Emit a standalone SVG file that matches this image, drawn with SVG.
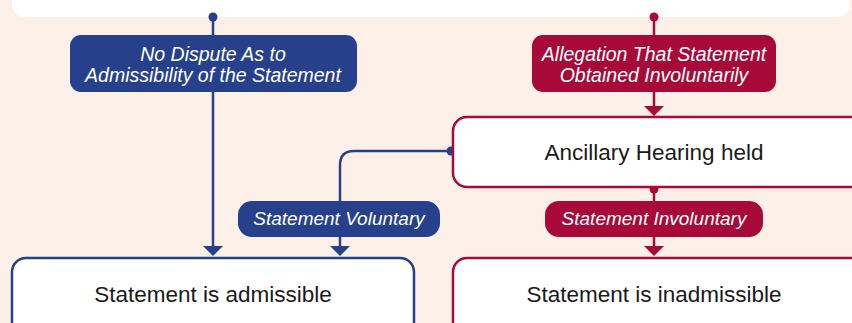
<svg xmlns="http://www.w3.org/2000/svg" width="852" height="323" viewBox="0 0 852 323">
<defs>
<style>
.bg{fill:#fdf0e9}
.node{fill:#ffffff;stroke-width:2.5}
.blue{stroke:#26408b}
.red{stroke:#a70a38}
.lblB{fill:#26408b}
.lblR{fill:#a70a38}
.fB{fill:#26408b}
.fR{fill:#a70a38}
.lt{font-family:"Liberation Sans",Arial,sans-serif;font-style:italic;font-size:19px;fill:#ffffff;text-anchor:middle}
.lt2{font-size:19.5px}
.nt{font-family:"Liberation Sans",Arial,sans-serif;font-size:22.5px;fill:#1a1a1a;text-anchor:middle}
.ln{fill:none;stroke-width:2.5}
</style>
</defs>
<rect class="bg" x="0" y="0" width="852" height="323"/>
<rect x="12" y="-30" width="838" height="47" rx="13" fill="#ffffff"/>

<g id="connectors">
<line class="ln blue" x1="213" y1="17" x2="213" y2="36"/>
<line class="ln blue" x1="213" y1="92" x2="213" y2="247"/>
<polygon class="fB" points="203,246 223,246 213,256"/>
<path class="ln blue" d="M451,151 L354,151 Q340,151 340,165 L340,247"/>
<polygon class="fB" points="330,246 350,246 340,256"/>
<line class="ln red" x1="654" y1="17" x2="654" y2="36"/>
<line class="ln red" x1="654" y1="92" x2="654" y2="107"/>
<polygon class="fR" points="644,106 664,106 654,116"/>
<line class="ln red" x1="654" y1="189" x2="654" y2="247"/>
<polygon class="fR" points="644,246 664,246 654,256"/>
<circle cx="213" cy="17" r="4.5" class="fB"/>
<circle cx="654" cy="17" r="4.5" class="fR"/>
<circle cx="451" cy="151" r="4.5" class="fB"/>
<circle cx="654" cy="189" r="4.5" class="fR"/>
</g>

<g id="label-no-dispute">
<rect class="lblB" x="70" y="35" width="287" height="57" rx="11"/>
<text class="lt lt2" x="213" y="61">No Dispute As to</text>
<text class="lt lt2" x="213" y="82">Admissibility of the Statement</text>
</g>

<g id="label-allegation">
<rect class="lblR" x="532" y="35" width="244" height="57" rx="11"/>
<text class="lt lt2" x="654" y="61">Allegation That Statement</text>
<text class="lt lt2" x="654" y="82">Obtained Involuntarily</text>
</g>

<g id="node-ancillary">
<rect class="node red" x="453" y="117" width="420" height="70" rx="14"/>
<text class="nt" x="654" y="160">Ancillary Hearing held</text>
</g>

<g id="label-voluntary">
<rect class="lblB" x="238" y="201" width="202" height="36" rx="14"/>
<text class="lt" x="339" y="225">Statement Voluntary</text>
</g>

<g id="label-involuntary">
<rect class="lblR" x="545" y="201" width="218" height="36" rx="14"/>
<text class="lt" x="654" y="225">Statement Involuntary</text>
</g>

<g id="node-admissible">
<rect class="node blue" x="12" y="258" width="402" height="90" rx="14"/>
<text class="nt" x="213" y="302">Statement is admissible</text>
</g>

<g id="node-inadmissible">
<rect class="node red" x="453" y="258" width="420" height="90" rx="14"/>
<text class="nt" x="654" y="302">Statement is inadmissible</text>
</g>
</svg>
